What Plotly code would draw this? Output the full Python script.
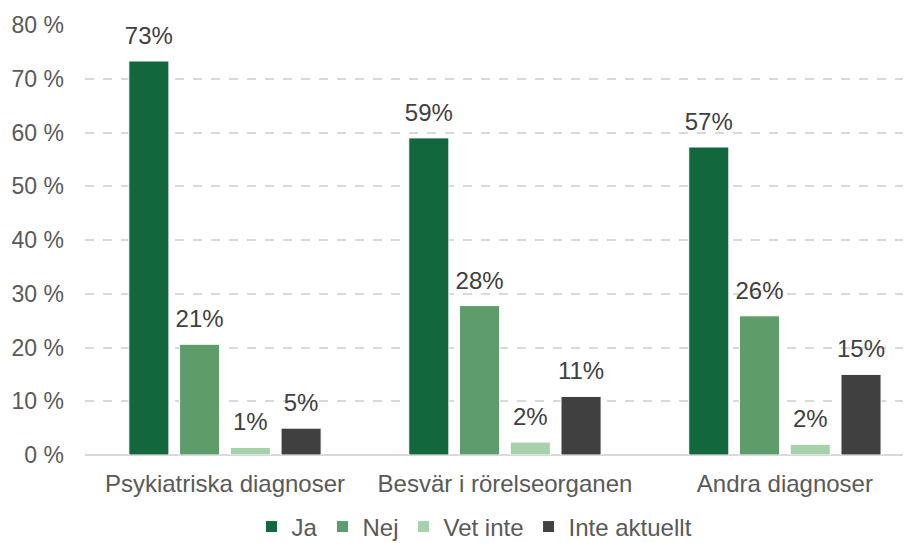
import plotly.graph_objects as go

categories = ["Psykiatriska diagnoser", "Besvär i rörelseorganen", "Andra diagnoser"]
ja = [73.3, 59.0, 57.3]
nej = [20.6, 27.8, 25.9]
vet_inte = [1.4, 2.4, 2.0]
inte_aktuellt = [5.0, 10.9, 15.0]

series = [
    ("Ja", ja, "#13673c"),
    ("Nej", nej, "#5e9c6c"),
    ("Vet inte", vet_inte, "#a6d1aa"),
    ("Inte aktuellt", inte_aktuellt, "#404040"),
]

font = "Liberation Sans, Arial, sans-serif"

fig = go.Figure()
for i, (name, vals, color) in enumerate(series):
    fig.add_trace(go.Bar(
        x=categories,
        y=vals,
        name=name,
        offsetgroup=str(i),
        marker=dict(color=color, line=dict(color="white", width=1)),
    ))
    # data labels, lifted a bit above the bar tops
    fig.add_trace(go.Scatter(
        x=categories,
        y=vals,
        offsetgroup=str(i),
        mode="markers+text",
        marker=dict(size=16, opacity=0),
        text=[f"{v:.0f}%" for v in vals],
        textposition="top center",
        textfont=dict(family=font, size=24, color="#404040"),
        showlegend=False,
        hoverinfo="skip",
        cliponaxis=False,
    ))

# page body has an 8px margin, so margins are shifted to compensate
fig.update_layout(
    width=911,
    height=560,
    margin=dict(l=77, r=0, t=17, b=113),
    plot_bgcolor="white",
    paper_bgcolor="white",
    barmode="group",
    scattermode="group",
    bargap=0.275,
    scattergap=0.275,
    bargroupgap=0.21,
    font=dict(family=font, size=24, color="#595959"),
    legend=dict(
        orientation="h",
        x=0.467, xanchor="center",
        y=-0.115, yanchor="top",
        font=dict(family=font, size=24, color="#595959"),
        itemwidth=30,
        tracegroupgap=0,
    ),
    xaxis=dict(
        range=[-0.5, 2.479],
        showgrid=False,
        showline=False,
        ticks="",
        ticklabelstandoff=12,
        automargin=False,
        tickfont=dict(size=24, color="#595959"),
    ),
    yaxis=dict(
        range=[0, 80],
        dtick=10,
        ticksuffix=" %",
        showgrid=True,
        gridcolor="#d9d9d9",
        griddash="dash",
        gridwidth=1.5,
        zeroline=True,
        zerolinecolor="#d9d9d9",
        zerolinewidth=1.5,
        ticklabelstandoff=20,
        automargin=False,
        tickfont=dict(size=23, color="#595959"),
    ),
)

fig.write_html("out.html")
